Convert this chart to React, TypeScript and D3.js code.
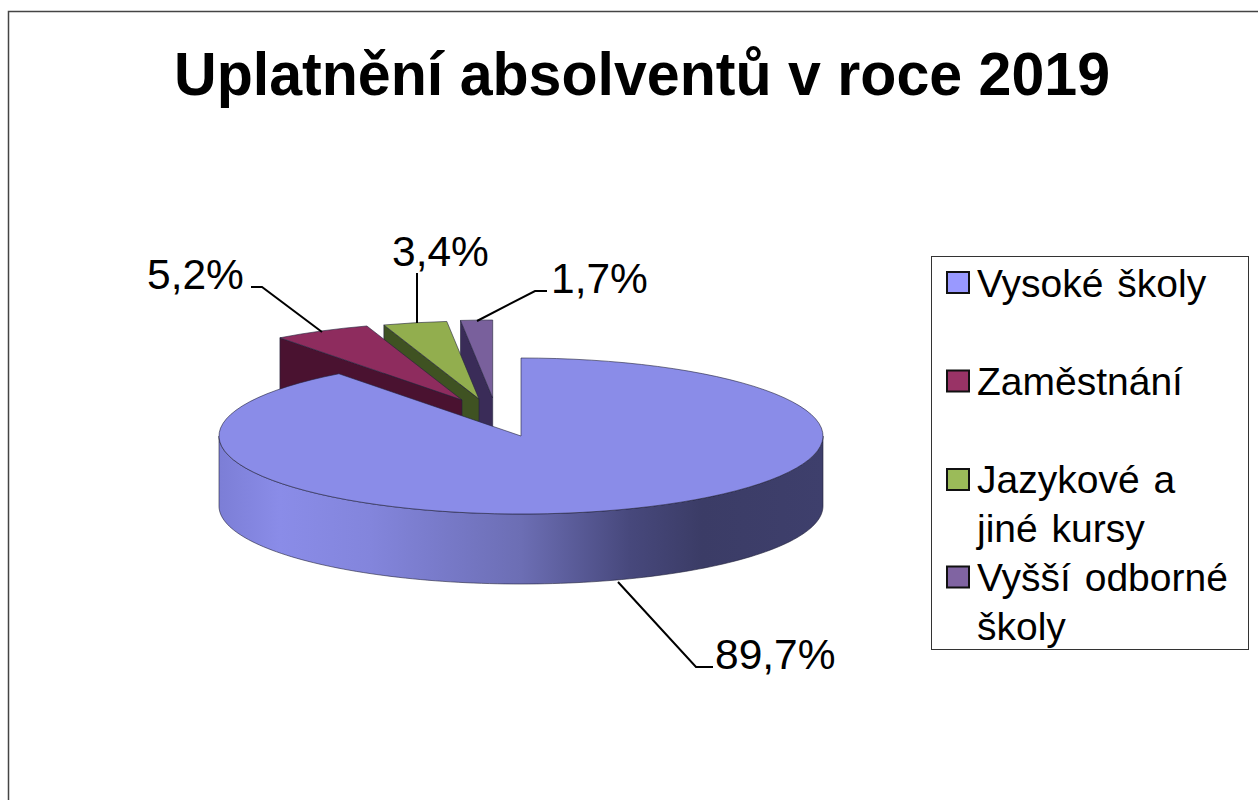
import React from "react";
import * as d3 from "d3";

const categories = ["Vysoké školy", "Zaměstnání", "Jazykové a jiné kursy", "Vyšší odborné školy"];
const values = [89.7, 5.2, 3.4, 1.7];
const valueLabels = ["89,7%", "5,2%", "3,4%", "1,7%"];
const legendLines = [["Vysoké školy"], ["Zaměstnání"], ["Jazykové a", "jiné kursy"], ["Vyšší odborné", "školy"]];
const titleText = "Uplatnění absolventů v roce 2019";

const topColors = ["#8A8CE8", "#8E2C5E", "#92AE4E", "#79609C"];
const sideColors = ["#8A8CE8", "#4A1230", "#3F5222", "#3A2C58"];
const legendColors = ["#9999FF", "#993366", "#9BBB59", "#8064A2"];
const apexX = [521, 462, 479, 492.7];
const apexY = [436, 400, 399, 398];
const labelLeaders = [
  [[618, 582], [696, 667], [713, 667]],
  [[322, 332], [262, 287], [251, 287]],
  [[417, 323], [417, 273]],
  [[477, 321], [535, 291], [547, 291]],
];
const labelX = [715, 147, 392, 551];
const labelY = [669, 289, 266, 293];
const legendSwatchY = [282.5, 381, 479.5, 577];
const legendTextY = [[297], [395], [493, 542], [591, 640]];

const RX = 302;
const RY = 78;
const DEPTH = 70;

export default function App() {
  const pie = d3.pie<number>().sort(null).startAngle(0).endAngle(2 * Math.PI);
  const arcs = pie(values);
  const arc = d3.arc<d3.PieArcDatum<number>>().innerRadius(0).outerRadius(RX);
  const squash = RY / RX;
  const pt = (i: number, a: number, dy = 0): [number, number] => [
    apexX[i] + RX * Math.sin(a),
    apexY[i] - RY * Math.cos(a) + dy,
  ];
  const line = d3.line();
  const sidePath = (i: number) => {
    const a0 = Math.max(arcs[i].startAngle, Math.PI / 2);
    const a1 = Math.min(arcs[i].endAngle, (3 * Math.PI) / 2);
    if (a0 >= a1) return null;
    const n = 120;
    const as = d3.range(n + 1).map((k) => a0 + ((a1 - a0) * k) / n);
    const pts = [...as.map((a) => pt(i, a)), ...as.slice().reverse().map((a) => pt(i, a, DEPTH))];
    return line(pts) + "Z";
  };
  const cutPath = (i: number) => {
    const a = arcs[i].startAngle;
    return line([
      pt(i, a),
      [apexX[i], apexY[i]],
      [apexX[i], apexY[i] + DEPTH],
      pt(i, a, DEPTH),
    ]) + "Z";
  };
  const stroke = "#22223a";
  const drawOrder = [3, 2, 1, 0];
  return (
    <svg
      width={1258}
      height={800}
      style={{ position: "absolute", left: 0, top: 0, background: "#fff" }}
      fontFamily="'Liberation Sans', Arial, sans-serif"
    >
      <defs>
        <linearGradient id="side" gradientUnits="userSpaceOnUse" x1={219} x2={823} y1={0} y2={0}>
          <stop offset="0" stopColor="#7C7ED6" />
          <stop offset="0.1" stopColor="#8A8CE8" />
          <stop offset="0.25" stopColor="#8385DC" />
          <stop offset="0.5" stopColor="#6C6EB4" />
          <stop offset="0.68" stopColor="#47487C" />
          <stop offset="0.8" stopColor="#3B3C66" />
          <stop offset="1" stopColor="#3E3F6C" />
        </linearGradient>
      </defs>
      <path d="M8.5,800V11.5H1258" fill="none" stroke="#444" strokeWidth={1.5} />
      <text
        x={174}
        y={95}
        fontSize={61}
        fontWeight={700}
        fill="#000"
        textLength={936}
        lengthAdjust="spacingAndGlyphs"
      >
        {titleText}
      </text>

      {drawOrder.map((i) => (
        <g key={categories[i]}>
          {i !== 0 && <path d={cutPath(i)} fill={sideColors[i]} stroke={stroke} strokeWidth={0.6} />}
          {sidePath(i) && <path d={sidePath(i)!} fill="url(#side)" stroke={stroke} strokeWidth={0.6} />}
          <g transform={`translate(${apexX[i]},${apexY[i]}) scale(1,${squash})`}>
            <path
              d={arc(arcs[i])!}
              fill={topColors[i]}
              stroke={stroke}
              strokeWidth={0.6}
              vectorEffect="non-scaling-stroke"
            />
          </g>
        </g>
      ))}

      {labelLeaders.map((pts, i) => (
        <path key={i} d={line(pts as [number, number][])!} fill="none" stroke="#000" strokeWidth={2} />
      ))}
      {valueLabels.map((t, i) => (
        <text key={t} x={labelX[i]} y={labelY[i]} fontSize={42.5} fill="#000">
          {t}
        </text>
      ))}

      <rect x={931.5} y={256.5} width={317} height={393} fill="#fff" stroke="#333" strokeWidth={1} />
      {categories.map((c, i) => (
        <g key={c}>
          <rect x={947} y={legendSwatchY[i] - 10.5} width={22} height={21} fill={legendColors[i]} stroke="#111" strokeWidth={2} />
          {legendLines[i].map((l, k) => (
            <text key={k} x={977} y={legendTextY[i][k]} fontSize={39} wordSpacing={3} fill="#000">
              {l}
            </text>
          ))}
        </g>
      ))}
    </svg>
  );
}
